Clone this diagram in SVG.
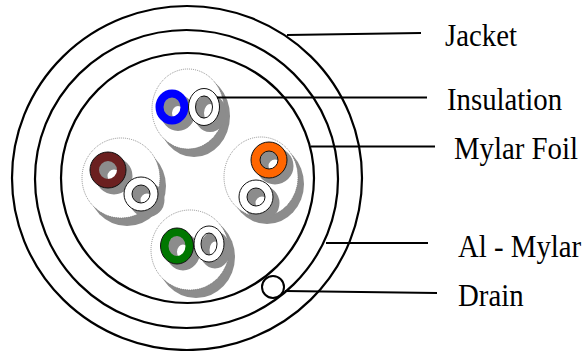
<svg xmlns="http://www.w3.org/2000/svg" width="586" height="351" viewBox="0 0 586 351">
<defs><filter id="soft" x="-50%" y="-50%" width="200%" height="200%"><feGaussianBlur stdDeviation="0.6"/></filter></defs>
<style>
.ring{fill:none;stroke:#000;stroke-width:2.2}
.leader{fill:none;stroke:#000;stroke-width:1.8}
.sh{fill:#8c8c8c;filter:url(#soft)}
.shr{fill:none;stroke:#8c8c8c;filter:url(#soft)}
.pod{fill:#fff;stroke:#777;stroke-width:.8;stroke-dasharray:1 1}
.line{fill:none;stroke:#111;stroke-width:1}
.lbl{font-family:"Liberation Serif","Times New Roman",serif;font-size:28.800px;fill:#000}
</style>
<rect width="586" height="351" fill="#fff"/>
<g id="cable">
<ellipse class="ring" cx="187" cy="178" rx="175" ry="172"/>
<ellipse class="ring" cx="186.500" cy="179" rx="151.500" ry="149"/>
<ellipse class="ring" cx="187.500" cy="178" rx="126.500" ry="125"/>
</g>
<g id="drain"><circle cx="273" cy="287" r="11" fill="#fff" stroke="#000" stroke-width="2"/></g>
<g id="pair-blue">
<ellipse class="sh" cx="194" cy="116" rx="36" ry="41"/><ellipse class="pod" cx="188" cy="109" rx="36" ry="40"/>
<ellipse class="shr" cx="178" cy="113" rx="11.500" ry="12.500" stroke-width="11"/><ellipse class="shr" cx="210" cy="113" rx="11" ry="14" stroke-width="10"/>
<ellipse cx="172" cy="107" rx="12.500" ry="13.500" fill="none" stroke="#00f" stroke-width="8"/>
<ellipse cx="204" cy="107" rx="12" ry="15" fill="none" stroke="#fff" stroke-width="7"/>
<ellipse class="line" cx="204" cy="107" rx="15.500" ry="18.500"/><ellipse class="line" cx="204" cy="107" rx="8.500" ry="11"/>
</g>
<g id="pair-brown">
<ellipse class="sh" cx="127" cy="186" rx="39" ry="40"/><ellipse class="pod" cx="121" cy="178" rx="39" ry="40"/>
<circle class="shr" cx="114" cy="176" r="12.500" stroke-width="12"/><circle class="shr" cx="147" cy="200" r="12" stroke-width="11"/>
<circle cx="108" cy="170" r="13.500" fill="none" stroke="#6b2020" stroke-width="9"/><circle class="line" cx="108" cy="170" r="18"/>
<circle cx="141" cy="194" r="13" fill="none" stroke="#fff" stroke-width="8"/>
<circle class="line" cx="141" cy="194" r="17"/><circle class="line" cx="141" cy="194" r="9"/>
</g>
<g id="pair-orange">
<ellipse class="sh" cx="267" cy="184" rx="37" ry="40"/><ellipse class="pod" cx="261" cy="177" rx="37" ry="40"/>
<circle class="shr" cx="275" cy="166" r="12.500" stroke-width="12"/><circle class="shr" cx="262" cy="203" r="12" stroke-width="11"/>
<circle cx="269" cy="160" r="13.500" fill="none" stroke="#f60" stroke-width="9"/><circle class="line" cx="269" cy="160" r="18"/><circle class="line" cx="269" cy="160" r="9"/>
<circle cx="256" cy="197" r="13" fill="none" stroke="#fff" stroke-width="8"/>
<circle class="line" cx="256" cy="197" r="17"/><circle class="line" cx="256" cy="197" r="9"/>
</g>
<g id="pair-green">
<ellipse class="sh" cx="196" cy="257" rx="39" ry="41"/><ellipse class="pod" cx="190" cy="250" rx="39" ry="40"/>
<ellipse class="shr" cx="183" cy="252" rx="11.500" ry="13" stroke-width="11"/><ellipse class="shr" cx="215" cy="250" rx="10.500" ry="13.500" stroke-width="10"/>
<ellipse cx="177" cy="246" rx="12.500" ry="14" fill="none" stroke="#070" stroke-width="8"/><ellipse class="line" cx="177" cy="246" rx="16.500" ry="18"/>
<ellipse cx="209" cy="244" rx="11.500" ry="14.500" fill="none" stroke="#fff" stroke-width="7"/>
<ellipse class="line" cx="209" cy="244" rx="15" ry="18"/><ellipse class="line" cx="209" cy="244" rx="8" ry="11"/>
</g>
<g id="connectors">
<path class="leader" d="M287 35L421 33"/>
<path class="leader" d="M217 97.500H427"/>
<path class="leader" d="M311 146.500H435"/>
<path class="leader" d="M326 243H428"/>
<path class="leader" d="M285 291L437 293"/>
</g>
<g id="labels">
<text class="lbl" transform="translate(445 46) scale(1 1.08)">Jacket</text>
<text class="lbl" transform="translate(447 110) scale(1 1.08)">Insulation</text>
<text class="lbl" transform="translate(454 159) scale(1 1.08)">Mylar Foil</text>
<text class="lbl" transform="translate(458 257) scale(1 1.08)">Al - Mylar</text>
<text class="lbl" transform="translate(458 306) scale(1 1.08)">Drain</text>
</g>
</svg>
